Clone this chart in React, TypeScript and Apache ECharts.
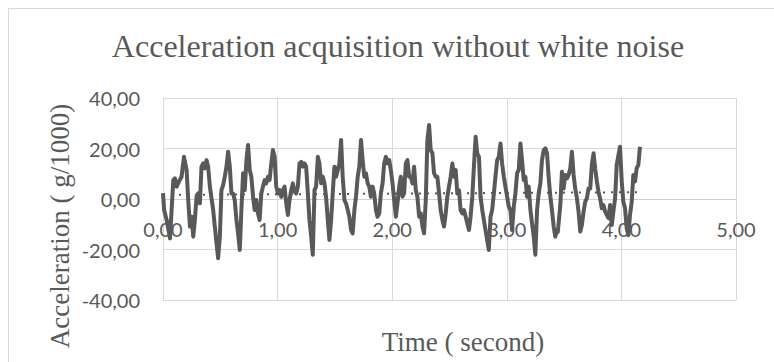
import React, { useEffect, useRef } from "react";
import * as echarts from "echarts";

const times = [
  0.0, 0.01, 0.032, 0.061, 0.09, 0.104, 0.119, 0.139, 0.162, 0.183, 0.206, 0.22, 0.235, 0.249, 0.264, 0.278, 0.293, 0.307, 0.322, 0.336,
  0.351, 0.365, 0.38, 0.394, 0.409, 0.438, 0.452, 0.467, 0.481, 0.496, 0.51, 0.525, 0.539, 0.554, 0.568, 0.583, 0.597, 0.612, 0.626, 0.641,
  0.655, 0.67, 0.684, 0.699, 0.713, 0.728, 0.742, 0.757, 0.771, 0.786, 0.8, 0.814, 0.829, 0.843, 0.858, 0.872, 0.887, 0.901, 0.916, 0.93,
  0.945, 0.959, 0.974, 0.988, 1.003, 1.017, 1.032, 1.046, 1.061, 1.075, 1.09, 1.104, 1.119, 1.133, 1.148, 1.162, 1.177, 1.191, 1.206, 1.22,
  1.235, 1.249, 1.264, 1.278, 1.293, 1.307, 1.322, 1.336, 1.351, 1.365, 1.38, 1.394, 1.409, 1.423, 1.438, 1.452, 1.467, 1.481, 1.496, 1.51,
  1.525, 1.539, 1.554, 1.568, 1.583, 1.597, 1.612, 1.626, 1.641, 1.655, 1.67, 1.684, 1.699, 1.713, 1.728, 1.742, 1.757, 1.771, 1.786, 1.8,
  1.814, 1.829, 1.843, 1.858, 1.872, 1.887, 1.901, 1.916, 1.93, 1.945, 1.959, 1.974, 1.988, 2.003, 2.017, 2.032, 2.046, 2.061, 2.075, 2.09,
  2.104, 2.119, 2.133, 2.148, 2.162, 2.177, 2.191, 2.206, 2.22, 2.235, 2.249, 2.264, 2.278, 2.293, 2.307, 2.322, 2.336, 2.351, 2.365, 2.38,
  2.394, 2.409, 2.423, 2.438, 2.452, 2.467, 2.481, 2.496, 2.51, 2.525, 2.539, 2.554, 2.568, 2.583, 2.597, 2.612, 2.626, 2.641, 2.655, 2.67,
  2.684, 2.699, 2.713, 2.728, 2.742, 2.757, 2.771, 2.786, 2.8, 2.814, 2.843, 2.858, 2.872, 2.887, 2.901, 2.916, 2.93, 2.945, 2.959, 2.974,
  2.988, 3.003, 3.017, 3.032, 3.046, 3.061, 3.075, 3.09, 3.104, 3.119, 3.133, 3.148, 3.162, 3.177, 3.191, 3.206, 3.22, 3.235, 3.249, 3.264,
  3.278, 3.293, 3.307, 3.322, 3.336, 3.351, 3.365, 3.38, 3.394, 3.409, 3.423, 3.438, 3.445, 3.467, 3.481, 3.496, 3.51, 3.525, 3.539, 3.554,
  3.568, 3.583, 3.597, 3.612, 3.626, 3.641, 3.655, 3.67, 3.684, 3.699, 3.713, 3.728, 3.742, 3.757, 3.771, 3.786, 3.8, 3.814, 3.829, 3.843,
  3.858, 3.872, 3.887, 3.901, 3.916, 3.93, 3.945, 3.959, 3.974, 3.988, 4.003, 4.017, 4.032, 4.046, 4.061, 4.075, 4.09, 4.104, 4.119, 4.133,
  4.148, 4.162,
];

const acceleration = [
  2.3, -4.5, -8.3, -15.6, 7.5, 8.2, 4.9, 6.9, 8.8, 16.7, 11.5, -0.4, -10.9, -7.0, -14.9, -8.3, 0.9, 2.2, -1.7, 12.8,
  14.1, 12.1, 15.4, 12.8, 4.9, -4.4, -10.9, -17.5, -23.5, -14.9, 3.5, 5.5, 8.8, 12.8, 18.7, 12.8, 2.2, 2.2, -0.4, -8.3,
  -13.6, -20.2, -4.4, 10.2, 3.5, 15.4, 21.4, 11.5, 8.8, 0.9, -4.4, -0.4, -5.7, -8.3, 2.2, 4.9, 7.5, 6.2, 8.8, 7.5,
  14.1, 19.4, 16.7, 4.9, 2.2, 3.5, 0.9, 3.5, 4.9, -1.7, -6.3, -0.4, 3.5, 6.2, 3.0, 2.2, 4.9, 14.1, 14.7, 12.8,
  14.1, 12.8, 2.2, -8.3, -14.9, -22.1, 3.5, 4.9, 16.7, 14.1, 6.2, 8.8, 6.2, 0.9, -8.3, -16.2, -8.3, 2.2, 12.8, 8.8,
  11.5, 14.1, 23.4, 8.8, -0.4, -1.7, -4.4, -7.0, -12.3, -13.6, -4.4, 0.9, 8.8, 12.8, 23.4, 15.4, 8.8, 10.2, 6.2, 4.9,
  0.9, 4.9, 2.2, -4.4, -7.0, -5.7, 2.2, 6.2, 14.1, 16.7, 14.1, 15.4, 11.5, 6.2, -0.4, -7.0, -1.7, 4.9, 8.8, 0.9,
  2.2, 14.1, 15.4, 8.8, 8.8, 6.2, 12.8, 3.5, 0.9, -7.0, -5.7, -10.9, -13.6, -0.4, 23.4, 29.3, 19.4, 18.1, 10.2, 8.8,
  8.8, 2.2, -4.4, -8.3, -10.9, -5.7, 0.9, 5.0, 8.8, 14.1, 8.8, 11.5, 2.2, 3.5, -4.4, -5.7, -4.4, -7.0, -9.6, -12.3,
  -7.0, 0.9, 12.8, 24.7, 18.1, 16.7, 0.9, -4.4, -8.3, -12.3, -20.2, -7.0, -4.4, 2.2, 8.8, 15.4, 16.7, 22.0, 14.1, 8.8,
  4.9, 0.9, -3.0, -4.4, -12.3, -3.0, 2.2, 10.2, 11.5, 22.0, 15.4, 7.5, 8.8, 0.9, 4.9, -4.4, -9.6, -14.9, -22.1, -4.4,
  2.2, 6.2, 15.4, 19.4, 20.1, 18.1, 8.8, 0.9, -4.4, -10.9, -14.9, -12.3, -13.0, -2.4, 10.8, 4.2, 9.5, 8.2, 9.5, 12.1,
  18.7, 9.5, 4.2, 0.3, -5.0, -12.9, -10.3, -5.0, -1.1, 0.3, 4.2, 4.2, 13.5, 18.1, 12.1, 6.9, 2.9, 0.3, -3.7, -2.4,
  -5.0, -6.3, -7.6, -2.4, -10.3, -5.0, 0.3, 13.5, 17.4, 20.7, 6.9, -1.1, -3.7, -11.6, -14.3, -6.3, -1.1, 9.5, 6.9, 12.1,
  13.5, 20.7,
];

const trendTimes = [0, 4.162];
const trendValues = [1.6, 2.7];

const titleText = "Acceleration acquisition without white noise";
const yAxisTitle = "Acceleration ( g/1000)";
const xAxisTitle = "Time ( second)";

const fmt = (v: number) => v.toFixed(2).replace(".", ",");

export default function App() {
  const ref = useRef<HTMLDivElement>(null);
  useEffect(() => {
    if (!ref.current) return;
    const chart = echarts.init(ref.current, undefined, { renderer: "svg" });
    const lineData = times.map((t, i) => [t, acceleration[i]]);
    const trendData = trendTimes.map((t, i) => [t, trendValues[i]]);
    const serif = "'Liberation Serif', 'Times New Roman', serif";
    const sans = "Lato, 'Open Sans', sans-serif";
    const grey = "#595959";
    chart.setOption({
      animation: false,
      backgroundColor: "#ffffff",
      grid: { left: 163, right: 38, top: 98, bottom: 62, containLabel: false },
      xAxis: {
        type: "value",
        min: 0,
        max: 5,
        interval: 1,
        position: "bottom",
        offset: -101,
        axisLine: { show: true, onZero: false, lineStyle: { color: "#cfcfcf", width: 1 } },
        axisTick: { show: false },
        axisLabel: {
          formatter: fmt,
          color: grey,
          fontFamily: sans,
          fontSize: 20,
          margin: 20,
        },
        splitLine: { show: true, lineStyle: { color: "#d9d9d9", width: 1 } },
        z: 1,
      },
      yAxis: {
        type: "value",
        min: -40,
        max: 40,
        interval: 20,
        axisLine: { show: false },
        axisTick: { show: false },
        axisLabel: {
          formatter: fmt,
          color: grey,
          fontFamily: sans,
          fontSize: 20,
          margin: 23,
        },
        splitLine: { show: true, lineStyle: { color: "#d9d9d9", width: 1 } },
      },
      series: [
        {
          type: "line",
          data: trendData,
          showSymbol: false,
          lineStyle: { color: grey, width: 2, type: [2, 6], cap: "butt" },
          z: 2,
        },
        {
          type: "line",
          data: lineData,
          showSymbol: false,
          lineStyle: { color: grey, width: 4, join: "round" },
          z: 3,
        },
      ],
      graphic: [
        {
          type: "line",
          shape: { x1: 8.5, y1: 8, x2: 8.5, y2: 362 },
          style: { stroke: "#d9d9d9", lineWidth: 1 },
        },
        {
          type: "line",
          shape: { x1: 8, y1: 8.5, x2: 774, y2: 8.5 },
          style: { stroke: "#d9d9d9", lineWidth: 1 },
        },
        {
          type: "text",
          x: 398,
          y: 46,
          style: {
            text: titleText,
            fill: grey,
            fontSize: 32,
            fontFamily: serif,
            align: "center",
            verticalAlign: "middle",
            textAlign: "center",
            textVerticalAlign: "middle",
          },
        },
        {
          type: "text",
          x: 60,
          y: 226,
          rotation: Math.PI / 2,
          style: {
            text: yAxisTitle,
            fill: grey,
            fontSize: 27,
            fontFamily: serif,
            align: "center",
            verticalAlign: "middle",
            textAlign: "center",
            textVerticalAlign: "middle",
          },
        },
        {
          type: "text",
          x: 463,
          y: 342,
          style: {
            text: xAxisTitle,
            fill: grey,
            fontSize: 27,
            fontFamily: serif,
            align: "center",
            verticalAlign: "middle",
            textAlign: "center",
            textVerticalAlign: "middle",
          },
        },
      ],
    });
    return () => chart.dispose();
  }, []);
  return (
    <div
      ref={ref}
      style={{ position: "absolute", left: 0, top: 0, width: 774, height: 362 }}
    />
  );
}
